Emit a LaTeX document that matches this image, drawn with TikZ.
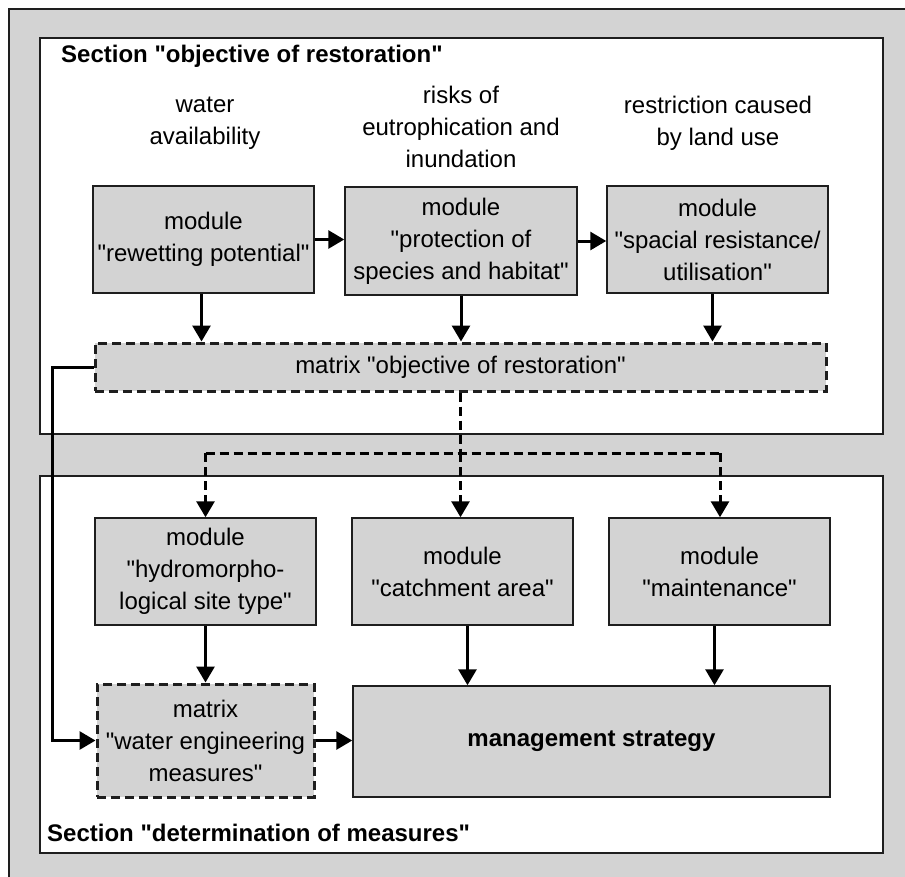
\documentclass[tikz,border=0pt]{standalone}
\usepackage{fontspec}
\setmainfont{Liberation Sans}
\usetikzlibrary{arrows.meta}
\definecolor{boxgray}{RGB}{211,211,211}
\definecolor{edge}{RGB}{30,30,30}
\newcommand{\dq}{\textquotedbl}
\begin{document}
\begin{tikzpicture}[x=1pt,y=-1pt,font=\fontsize{24}{32}\selectfont]
\tikzset{
  box/.style={draw=edge,line width=1.5pt,fill=boxgray,align=center,inner sep=0pt},
  dbox/.style={box,line width=3pt,dash pattern=on 9pt off 5pt},
  arr/.style={draw=black,line width=3pt,-{Triangle[length=16pt,width=18pt]}},
  darr/.style={arr,dash pattern=on 9pt off 5pt},
  dline/.style={draw=black,line width=3pt,dash pattern=on 9pt off 5pt},
  sect/.style={draw=edge,line width=1.5pt,fill=white},
  lbl/.style={align=center,inner sep=0pt},
  ttl/.style={inner sep=0pt,font=\fontsize{24}{32}\selectfont\bfseries}
}
\useasboundingbox (0,0) rectangle (905,876);
% outer frame
\draw[draw=edge,line width=1.5pt,fill=boxgray] (9,9) rectangle (915,886);
% sections
\draw[sect] (40,38) rectangle (883,434);
\draw[sect] (40,476) rectangle (883,853);
\node[ttl,anchor=base west] (t1) at (61,62) {Section \dq objective of restoration\dq};
\node[ttl,anchor=base west] (t2) at (47,841) {Section \dq determination of measures\dq};
% labels
\node[lbl] (l1) at (205,123) {water\\availability};
\node[lbl] (l2) at (461,127) {risks of\\eutrophication and\\inundation};
\node[lbl] (l3) at (718,123) {restriction caused\\by land use};
% row 1
\node[box,minimum width=221pt,minimum height=107pt] (A) at (203.5,239.5) {module\\\dq rewetting potential\dq};
\node[box,minimum width=232pt,minimum height=108pt] (B) at (461,241) {module\\\dq protection of\\species and habitat\dq};
\node[box,minimum width=221pt,minimum height=107pt] (C) at (717.5,239.5) {module\\\dq spacial resistance/\\utilisation\dq};
\node[dbox,minimum width=731pt,minimum height=48pt] (M1) at (460.5,367) {matrix \dq objective of restoration\dq};
% row 2
\node[box,minimum width=221pt,minimum height=107pt] (D) at (205.5,571.5) {module\\\dq hydromorpho-\\logical site type\dq};
\node[box,minimum width=221pt,minimum height=107pt] (E) at (462.5,571.5) {module\\\dq catchment area\dq};
\node[box,minimum width=221pt,minimum height=107pt] (F) at (719.5,571.5) {module\\\dq maintenance\dq};
\node[dbox,minimum width=217pt,minimum height=113pt] (M2) at (205.5,740.5) {matrix\\\dq water engineering\\measures\dq};
\node[box,minimum width=477pt,minimum height=111pt] (MS) at (591.5,741.5) {\bfseries management strategy};
% connectors row 1
\draw[arr] (A.east) -- (A.east -| B.west);
\draw[arr] (B.east) -- (B.east -| C.west);
\draw[arr] ([xshift=-2pt]A.south) -- ([xshift=-2pt]A.south |- M1.north);
\draw[arr] (B.south) -- (B.south |- M1.north);
\draw[arr] ([xshift=-5pt]C.south) -- ([xshift=-5pt]C.south |- M1.north);
% dashed distribution
\coordinate (j) at (460.5,453);
\coordinate (jl) at (205.5,453);
\coordinate (jr) at (720,453);
\draw[dline] (M1.south) -- (j);
\draw[dline] (jl) -- (jr);
\draw[darr] (jl) -- (D.north);
\draw[darr] (j) -- (j |- E.north);
\draw[darr] (jr) -- (jr |- F.north);
% left feedback line
\coordinate (k) at (52,367);
\draw[arr] (M1.west) -- (k) |- (M2.west);
% connectors row 2
\draw[arr] (D.south) -- (M2.north);
\draw[arr] ([xshift=5pt]E.south) -- ([xshift=5pt]E.south |- MS.north);
\draw[arr] ([xshift=-5pt]F.south) -- ([xshift=-5pt]F.south |- MS.north);
\draw[arr] (M2.east) -- (M2.east -| MS.west);
\end{tikzpicture}
\end{document}
